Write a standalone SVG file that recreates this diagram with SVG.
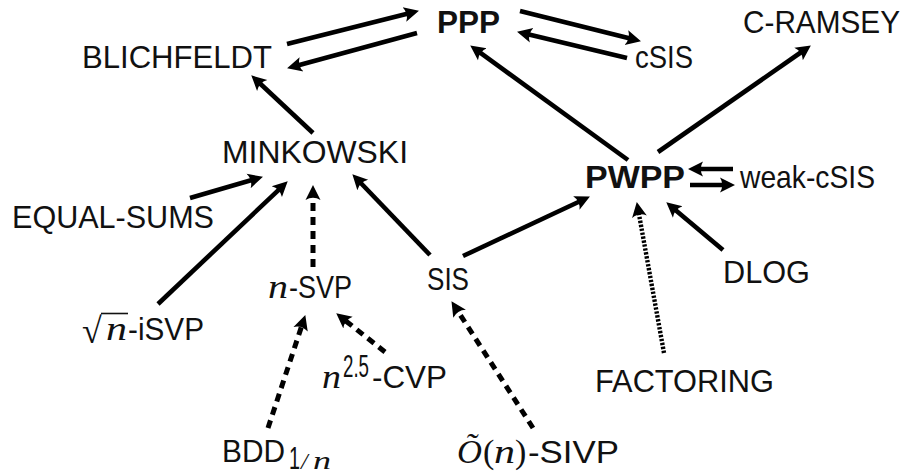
<svg xmlns="http://www.w3.org/2000/svg" width="909" height="476" viewBox="0 0 909 476">
<style>
  .t { font-family: "Liberation Sans", Arial, sans-serif; font-size: 32px; fill: #111; }
  .b { font-weight: bold; }
  .m { font-family: "Liberation Serif", "Times New Roman", serif; font-style: italic; fill: #111; }
  .r { font-family: "Liberation Serif", "Times New Roman", serif; fill: #111; }
  .e { fill: none; stroke: #000; stroke-width: 4.6; marker-end: url(#ah); }
  .d { stroke-dasharray: 8 6; stroke-width: 5; }
  .o { stroke-dasharray: 2.4 1.6; stroke-width: 4.4; }
</style>
<defs>
  <marker id="ah" markerUnits="userSpaceOnUse" viewBox="0 -9 16 18" refX="7" refY="0" markerWidth="16" markerHeight="18" orient="auto">
    <path d="M15,0 L0,-7.5 Q4.5,0 0,7.5 Z" fill="#000"/>
  </marker>
</defs>
<rect width="909" height="476" fill="#fff"/>

<g id="edges">
  <line class="e" x1="287" y1="44" x2="411.2" y2="12.7"/>
  <line class="e" x1="417" y1="33" x2="294.8" y2="66.2"/>
  <line class="e" x1="520" y1="11" x2="633.2" y2="39.3"/>
  <line class="e" x1="627" y1="58" x2="524.8" y2="33.6"/>
  <line class="e" x1="313" y1="133" x2="257.1" y2="80.8"/>
  <line class="e" x1="628" y1="160" x2="476.7" y2="50.1"/>
  <line class="e" x1="658" y1="152" x2="804.3" y2="50"/>
  <line class="e" x1="733" y1="169" x2="696" y2="169"/>
  <line class="e" x1="690" y1="185" x2="727" y2="185"/>
  <line class="e" x1="190" y1="198" x2="255.3" y2="179"/>
  <line class="e" x1="158" y1="304" x2="281.9" y2="186.8"/>
  <line class="e d" x1="313" y1="267" x2="313" y2="193"/>
  <line class="e" x1="430" y1="255" x2="357.9" y2="180"/>
  <line class="e" x1="463" y1="256" x2="582.7" y2="200"/>
  <line class="e o" x1="664" y1="353" x2="638.2" y2="209.9"/>
  <line class="e" x1="723" y1="250" x2="672.4" y2="207.5"/>
  <line class="e d" x1="268" y1="428" x2="302.8" y2="322.6"/>
  <line class="e d" x1="385" y1="352" x2="342.5" y2="318.3"/>
  <line class="e d" x1="533" y1="428" x2="455.8" y2="307.9"/>
</g>

<g id="PPP"><text class="t b" x="437" y="33" textLength="63" lengthAdjust="spacingAndGlyphs">PPP</text></g>
<g id="BLICHFELDT"><text class="t" x="82" y="68" textLength="190" lengthAdjust="spacingAndGlyphs">BLICHFELDT</text></g>
<g id="cSIS"><text class="t" x="635" y="68" textLength="58" lengthAdjust="spacingAndGlyphs">cSIS</text></g>
<g id="C-RAMSEY"><text class="t" x="743" y="33" textLength="157" lengthAdjust="spacingAndGlyphs">C-RAMSEY</text></g>
<g id="MINKOWSKI"><text class="t" x="222" y="163" textLength="186" lengthAdjust="spacingAndGlyphs">MINKOWSKI</text></g>
<g id="PWPP"><text class="t b" x="585" y="188" textLength="100" lengthAdjust="spacingAndGlyphs">PWPP</text></g>
<g id="weak-cSIS"><text class="t" x="740" y="188" textLength="135" lengthAdjust="spacingAndGlyphs">weak-cSIS</text></g>
<g id="EQUAL-SUMS"><text class="t" x="12" y="228" textLength="202" lengthAdjust="spacingAndGlyphs">EQUAL-SUMS</text></g>
<g id="DLOG"><text class="t" x="723" y="283" textLength="87" lengthAdjust="spacingAndGlyphs">DLOG</text></g>
<g id="SIS"><text class="t" x="427" y="290" textLength="42" lengthAdjust="spacingAndGlyphs">SIS</text></g>
<g id="FACTORING"><text class="t" x="595" y="392" textLength="179" lengthAdjust="spacingAndGlyphs">FACTORING</text></g>

<g id="sqrtn-iSVP">
  <text class="r" x="82" y="343" font-size="36">√</text>
  <line x1="101" y1="313.5" x2="128" y2="313.5" stroke="#111" stroke-width="1.6"/>
  <text class="m" x="106" y="340" font-size="34" textLength="21" lengthAdjust="spacingAndGlyphs">n</text>
  <text class="t" x="128" y="340" textLength="76" lengthAdjust="spacingAndGlyphs">-iSVP</text>
</g>
<g id="n-SVP">
  <text class="m" x="268" y="298" font-size="34" textLength="20" lengthAdjust="spacingAndGlyphs">n</text>
  <text class="t" x="289" y="298" textLength="63" lengthAdjust="spacingAndGlyphs">-SVP</text>
</g>
<g id="n25-CVP">
  <text class="m" x="322" y="388" font-size="34" textLength="19" lengthAdjust="spacingAndGlyphs">n</text>
  <text class="t" x="343" y="377" font-size="18" textLength="26" lengthAdjust="spacingAndGlyphs">2.5</text>
  <text class="t" x="372" y="388" textLength="75" lengthAdjust="spacingAndGlyphs">-CVP</text>
</g>
<g id="BDD">
  <text class="t" x="222" y="462" textLength="63" lengthAdjust="spacingAndGlyphs">BDD</text>
  <text class="t" x="289" y="469" font-size="22" textLength="11" lengthAdjust="spacingAndGlyphs">1</text>
  <text class="m" x="301" y="469" font-size="24">/</text>
  <text class="m" x="313" y="469" font-size="26" textLength="18" lengthAdjust="spacingAndGlyphs">n</text>
</g>
<g id="O-SIVP">
  <text class="m" x="457" y="463" font-size="34" textLength="25" lengthAdjust="spacingAndGlyphs">Õ</text>
  <text class="r" x="483" y="463" font-size="34">(</text>
  <text class="m" x="494" y="463" font-size="34" textLength="21" lengthAdjust="spacingAndGlyphs">n</text>
  <text class="r" x="515" y="463" font-size="34">)</text>
  <text class="t" x="528" y="463" textLength="91" lengthAdjust="spacingAndGlyphs">-SIVP</text>
</g>
</svg>
